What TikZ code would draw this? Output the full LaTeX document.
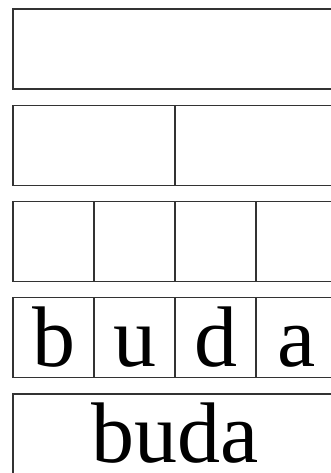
\documentclass[tikz,border=0pt]{standalone}
\usepackage{fontspec}
\setmainfont{Liberation Serif}
\usetikzlibrary{positioning}

\begin{document}
\begin{tikzpicture}[
    x=1pt, y=-1pt,
    cell/.style={draw=black!80, line width=1.4pt, inner sep=0pt, outer sep=0pt,
        minimum height=80pt, text height=68.5pt, text depth=11.5pt,
        font=\fontsize{86}{86}\selectfont},
    quarter/.style={cell, minimum width=81pt}
]
    \useasboundingbox (0,0) rectangle (331,473);
    % one box
    \node[cell, minimum width=324pt] (whole) at (175,49) {};
    % two halves
    \node[cell, minimum width=162pt] (halfA) at (94,145.25) {};
    \node[cell, minimum width=162pt, right=0pt of halfA] (halfB) {};
    % four empty cells
    \node[quarter] (emptyA) at (53.5,241.5) {};
    \node[quarter, right=0pt of emptyA] (emptyB) {};
    \node[quarter, right=0pt of emptyB] (emptyC) {};
    \node[quarter, right=0pt of emptyC] (emptyD) {};
    % four letters
    \node[quarter] (letB) at (53.5,337.75) {b};
    \node[quarter, right=0pt of letB] (letU) {u};
    \node[quarter, right=0pt of letU] (letD) {d};
    \node[quarter, right=0pt of letD] (letA) {a};
    % the word
    \node[cell, minimum width=324pt] (word) at (175,434) {buda};
\end{tikzpicture}
\end{document}
